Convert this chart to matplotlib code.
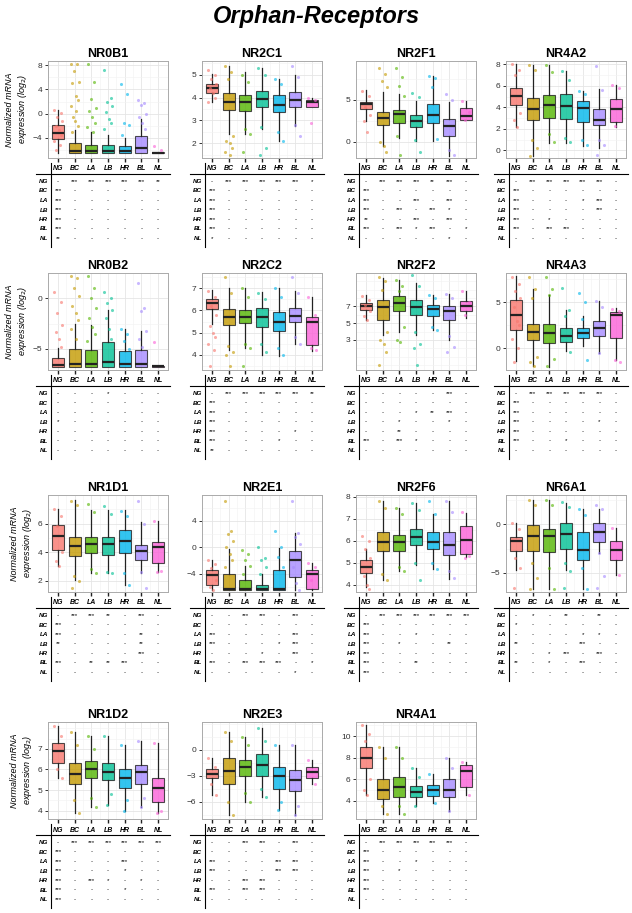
import matplotlib.pyplot as plt
from matplotlib.lines import Line2D
from matplotlib.ticker import AutoMinorLocator

plt.rcParams['font.family'] = ['Liberation Sans', 'DejaVu Sans']

groups = ['NG', 'BC', 'LA', 'LB', 'HR', 'BL', 'NL']
colors = ['#F8766D', '#C49A00', '#53B400', '#00C094', '#00B6EB', '#A58AFF', '#FB61D7']

# box stats per group: [low whisker, q1, median, q3, high whisker]
NR0B1_box = [[-6.5, -4.2, -3.1, -1.8, 0.6], [-6.5, -6.5, -6.2, -4.9, -2.6], [-6.5, -6.5, -6.2, -5.1, -3.0],
             [-6.5, -6.5, -6.2, -5.1, -3.5], [-6.5, -6.5, -6.2, -5.4, -4.0], [-6.5, -6.5, -5.7, -3.6, -0.8],
             [-6.5, -6.5, -6.5, -6.3, -6.3]]
NR2C1_box = [[3.8, 4.2, 4.41, 4.59, 5.05], [2.4, 3.46, 3.82, 4.19, 5.4], [2.4, 3.4, 3.79, 4.12, 5.1],
             [2.62, 3.57, 3.94, 4.28, 5.3], [2.1, 3.35, 3.68, 4.13, 4.8], [2.76, 3.57, 3.87, 4.24, 5.0],
             [3.57, 3.57, 3.81, 3.87, 4.0]]
NR2F1_box = [[2.48, 3.88, 4.48, 4.76, 6.16], [-0.52, 1.96, 2.8, 3.56, 5.88], [0.48, 2.28, 3.36, 3.76, 5.68],
             [0.08, 1.76, 2.48, 3.2, 4.88], [0.08, 2.28, 3.2, 4.56, 7.88], [-1.72, 0.68, 1.88, 2.68, 4.68],
             [2.6, 2.6, 3.08, 4.08, 4.88]]
NR4A2_box = [[2.2, 4.26, 5.05, 5.78, 8.0], [-0.5, 2.78, 3.86, 4.9, 7.9], [0.7, 3.0, 4.26, 5.15, 7.9],
             [0.7, 2.94, 4.1, 5.2, 7.4], [0.4, 2.63, 3.96, 4.58, 5.5], [0.25, 2.37, 2.78, 3.8, 5.7],
             [2.2, 2.6, 3.8, 4.74, 6.1]]
NR0B2_box = [[-6.8, -6.8, -6.6, -5.9, -4.9], [-6.8, -6.8, -6.5, -5.0, -2.5], [-6.8, -6.8, -6.5, -5.1, -2.6],
             [-6.8, -6.8, -6.3, -4.3, -1.15], [-6.8, -6.8, -6.5, -5.2, -3.0], [-6.8, -6.8, -6.5, -5.1, -3.2],
             [-6.8, -6.8, -6.75, -6.7, -6.7]]
NR2C2_box = [[5.4, 6.05, 6.32, 6.52, 6.95], [4.2, 5.33, 5.72, 6.07, 7.0], [4.3, 5.42, 5.72, 6.02, 7.0],
             [4.0, 5.24, 5.72, 6.1, 6.85], [3.95, 5.05, 5.5, 5.95, 7.0], [4.5, 5.5, 5.77, 6.1, 6.9],
             [4.15, 4.45, 5.5, 5.72, 6.6]]
NR2F2_box = [[5.4, 6.52, 7.0, 7.4, 8.4], [3.6, 5.4, 6.9, 7.8, 10.4], [4.0, 6.4, 7.4, 8.2, 10.2],
             [3.6, 6.0, 6.9, 7.8, 9.8], [4.2, 5.8, 6.7, 7.2, 8.4], [3.0, 5.4, 6.4, 7.1, 8.5],
             [5.6, 6.4, 7.0, 7.6, 8.8]]
NR4A3_box = [[-1.46, 2.0, 3.58, 5.2, 7.85], [-2.0, 0.84, 1.75, 2.63, 6.4], [-2.08, 0.55, 1.64, 2.63, 5.84],
             [-0.36, 0.62, 1.35, 2.19, 4.2], [0.18, 1.1, 1.64, 2.19, 3.5], [-0.55, 1.28, 2.19, 2.92, 5.1],
             [-1.3, 1.1, 3.58, 3.94, 4.38]]
NR1D1_box = [[3.0, 4.14, 5.14, 5.88, 7.0], [2.05, 3.72, 4.42, 5.07, 7.67], [2.5, 3.9, 4.53, 5.07, 6.95],
             [2.5, 3.79, 4.56, 5.07, 6.95], [1.7, 3.9, 4.79, 5.53, 6.95], [2.5, 3.44, 4.1, 4.49, 6.1],
             [2.63, 3.21, 4.37, 4.72, 6.2]]
NR2E1_box = [[-6.5, -5.8, -4.23, -3.45, -1.9], [-6.5, -6.5, -6.3, -4.0, -0.35], [-6.5, -6.5, -6.3, -5.0, -2.9],
             [-6.5, -6.5, -6.3, -5.7, -4.0], [-6.5, -6.5, -6.3, -3.45, -0.1], [-6.5, -4.5, -1.9, -0.6, 2.2],
             [-6.5, -6.3, -4.0, -3.45, -2.4]]
NR2F6_box = [[3.9, 4.52, 4.8, 5.1, 5.6], [4.2, 5.55, 5.96, 6.37, 7.8], [4.6, 5.55, 5.93, 6.25, 7.5],
             [4.9, 5.8, 6.15, 6.55, 7.72], [4.7, 5.63, 5.93, 6.37, 7.2], [4.28, 5.33, 5.8, 6.4, 7.78],
             [5.25, 5.4, 6.03, 6.67, 7.27]]
NR6A1_box = [[-4.76, -2.74, -1.74, -1.28, 0.1], [-6.67, -2.74, -1.2, -0.07, 2.5], [-6.67, -2.85, -1.2, -0.5, 2.5],
             [-4.76, -2.5, -1.0, 0.17, 2.25], [-6.67, -3.7, -2.6, -0.76, 1.56], [-3.0, -1.87, -0.83, 0.1, 1.56],
             [-5.25, -3.7, -2.67, -1.7, -0.42]]
NR1D2_box = [[5.6, 6.3, 6.9, 7.3, 8.1], [3.9, 5.3, 5.8, 6.3, 7.8], [4.2, 5.6, 6.0, 6.4, 7.6],
             [4.3, 5.5, 5.9, 6.3, 7.6], [4.0, 5.1, 5.6, 6.0, 7.2], [4.2, 5.3, 5.9, 6.2, 7.4],
             [3.9, 4.4, 5.1, 5.6, 7.3]]
NR2E3_box = [[-5.2, -3.3, -2.8, -2.2, -1.0], [-7.5, -4.0, -2.5, -0.9, 2.0], [-6.0, -3.0, -2.0, -1.2, 1.5],
             [-5.5, -3.0, -1.8, -0.5, 2.5], [-7.0, -4.5, -3.0, -2.0, 0.5], [-7.5, -4.8, -3.5, -2.3, 0.5],
             [-4.0, -3.3, -2.6, -2.0, -1.2]]
NR4A1_box = [[4.5, 7.0, 8.0, 9.0, 11.0], [2.8, 4.2, 5.0, 6.0, 9.0], [2.8, 4.3, 5.3, 6.2, 9.0],
             [3.5, 4.3, 4.8, 5.4, 7.0], [3.8, 4.4, 5.0, 5.5, 6.5], [3.0, 4.3, 5.0, 6.0, 8.0],
             [4.5, 5.3, 6.8, 7.3, 7.6]]

# visible individual samples per group
NR0B1_pts = [[0.6, 0.2, -0.5, -1.2, -2.0, -2.6, -3.5, -4.5, -5.2, -6.0],
             [8.2, 8.2, 7.0, 5.2, 5.0, 3.0, 2.2, 1.2, 0.5, -0.5, -1.2, -2.0, -3.0],
             [8.2, 5.2, 2.5, 1.0, 0.5, -0.5, -1.5, -2.2, -3.0],
             [7.2, 2.6, 2.0, 1.2, 0.3, -0.8, -1.6, -2.5],
             [4.9, 3.2, -1.5, -1.9, -3.5], [2.2, 1.8, 1.4, 0.0, -0.6, -1.5, -2.5], [-5.3, -5.9]]
NR2C1_pts = [[5.2, 5.0, 4.8, 4.6, 4.4, 4.2, 4.0, 3.8], [5.4, 5.1, 4.8, 2.3, 2.1, 2.0, 1.8, 1.6, 1.5],
             [5.0, 4.7, 2.6, 2.4, 1.6], [5.3, 5.0, 2.7, 1.8, 1.5], [4.8, 4.6, 2.5, 2.1],
             [5.4, 4.9, 2.8, 2.3], [4.0, 3.9, 2.9]]
NR2F1_pts = [[6.1, 5.5, 4.2, 3.2, 2.5, 1.2], [8.8, 8.0, 7.2, 6.5, 0.0, -0.5, -1.2],
             [8.8, 7.7, 6.6, 5.5, 0.7, -1.5], [5.8, 5.3, 0.2, -1.2], [7.8, 7.6, 6.5, 0.3],
             [5.7, 5.0, -1.0, -1.6], [4.8, 3.5, 2.6]]
NR4A2_pts = [[8.0, 7.5, 7.0, 3.5, 2.8, 2.2], [7.9, 7.5, 1.0, 0.2, -0.5], [7.9, 7.3, 1.5, 0.8],
             [7.4, 6.5, 1.2, 0.8], [5.5, 5.2, 1.0, 0.5], [7.8, 5.6, 1.0, 0.5, -0.4], [6.1, 5.8, 2.3]]
NR0B2_pts = [[0.6, -0.4, -1.5, -2.6, -3.3, -4.0, -4.8], [2.2, 2.0, 1.0, 0.2, -0.8, -1.5, -2.2, -3.0, -4.0],
             [2.2, 1.0, 0.0, -1.0, -2.0, -2.8, -3.5, -4.2], [0.6, 0.0, -0.5, -1.2, -2.0, -3.0, -4.0],
             [-3.0, -3.5, -4.2, -5.0], [1.5, -1.0, -1.3, -3.2, -4.0, -4.8], [-4.3]]
NR2C2_pts = [[6.9, 6.6, 6.2, 5.8, 5.3, 5.0, 4.8, 4.5, 4.2, 3.5], [7.5, 6.8, 4.4, 4.1, 4.0, 3.5],
             [7.0, 6.6, 4.5, 4.3, 3.5], [6.8, 6.5, 4.5, 4.1], [7.0, 6.6, 4.3, 4.0],
             [7.5, 6.8, 4.8, 4.5], [6.6, 5.8, 4.3, 4.2]]
NR2F2_pts = [[8.3, 7.8, 7.2, 6.5, 5.8, 5.4], [10.5, 10.0, 9.0, 4.0, 3.0, 2.5, 1.5, 0.0],
             [10.2, 9.5, 8.8, 4.5, 3.0, 2.8], [10.8, 9.5, 4.0, 2.5, 2.0, 0.0], [8.4, 8.0, 4.5, 4.2],
             [8.5, 8.0, 3.5, 2.2, 1.6], [8.8, 7.5, 6.0]]
NR4A3_pts = [[7.8, 7.0, 6.2, 5.5, 4.5, 3.0, 2.5, 1.0, 0.0, -1.5], [7.8, 6.4, 5.5, -1.0, -1.5, -2.0],
             [7.8, 6.4, 5.8, -1.2, -2.0], [6.6, 4.2, 3.5, -0.4], [6.0, 5.0, 3.2, -1.3],
             [5.1, 4.5, -0.5], [4.3, 4.0, -1.3, -1.5]]
NR1D1_pts = [[7.0, 6.5, 5.8, 4.0, 3.4, 3.0], [7.6, 7.3, 2.3, 2.0, 1.5], [7.4, 6.8, 2.8, 2.5],
             [7.2, 6.7, 2.6, 2.5], [6.9, 6.5, 2.5, 1.7], [7.6, 6.0, 2.6, 1.5], [6.2, 2.7, 2.6]]
NR2E1_pts = [[-1.9, -2.5, -3.2, -5.0, -6.0, -6.5], [7.0, 2.5, 2.0, 1.0, 0.0, -1.0, -2.0, -3.0],
             [-0.5, -1.0, -2.0, -2.9, -4.0], [0.0, -1.7, -2.0, -3.0, -4.0], [2.5, 0.0, -1.5, -3.0],
             [7.0, 2.2, 1.5, 0.5, -3.0, -5.5, -6.5], [-2.4, -3.0, -5.0]]
NR2F6_pts = [[6.2, 6.0, 5.6, 5.2, 4.4, 4.0, 3.8], [7.8, 7.5, 4.5, 4.2], [7.5, 7.2, 4.8, 4.6],
             [7.7, 7.4, 5.0, 4.2], [7.8, 7.2, 5.0, 4.7], [7.8, 7.3, 4.6, 4.3], [7.3, 5.3, 5.2]]
NR6A1_pts = [[0.1, -0.5, -3.5, -4.5, -6.6], [2.5, 2.0, -4.0, -5.5, -6.7], [2.5, 2.0, -4.5, -6.7],
             [2.3, 1.8, -4.0, -4.8, -6.6], [1.6, 1.0, -4.5, -6.7], [2.0, 1.6, -3.0, -5.3, -6.6],
             [-0.4, -5.2]]
NR1D2_pts = [[8.1, 7.6, 6.0, 5.6], [7.8, 7.2, 4.5, 3.9], [7.6, 7.0, 4.6, 4.2], [7.6, 4.8, 4.3],
             [7.2, 4.5, 4.0], [7.4, 4.6, 4.2], [7.3, 4.0, 3.9]]
NR2E3_pts = [[-1.0, -2.0, -4.0, -5.2], [2.0, 1.0, -6.0, -7.5], [1.5, 0.5, -5.0, -6.0],
             [2.5, 1.0, -4.5, -5.5], [0.5, -6.0, -7.0], [0.5, -6.5, -7.5], [-1.2, -4.0]]
NR4A1_pts = [[11.0, 10.2, 9.5, 6.0, 5.0, 4.5], [9.0, 8.0, 3.5, 2.8], [9.0, 8.0, 3.5, 2.8],
             [7.0, 6.2, 3.5], [6.5, 3.8], [8.0, 7.0, 3.0], [7.6, 4.5]]

# pairwise significance tables (rows/cols in group order)
NR0B1_sig = ['- *** *** *** *** *** **', '*** - - - - - -', '*** - - - - - -', '*** - - - - - -',
             '*** - - - - - -', '*** - - - - - -', '** - - - - - -']
NR2C1_sig = ['- *** *** *** *** *** *', '*** - - - - - -', '*** - - - - - -', '*** - - - - - -',
             '*** - - - - - -', '*** - - - - - -', '* - - - - - -']
NR2F1_sig = ['- *** *** *** ** *** -', '*** - - - - - -', '*** - - *** - *** -', '*** - *** - *** * -',
             '** - - *** - *** -', '*** - *** * *** - *', '- - - - - * -']
NR4A2_sig = ['- *** *** *** *** *** -', '*** - - - - - -', '*** - - - * *** -', '*** - - - - *** -',
             '*** - * - - - -', '*** - *** *** - - -', '- - - - - - -']
NR0B2_sig = ['- - - * - - -', '- - - - - - -', '- - - - - - -', '* - - - - - -',
             '- - - - - - -', '- - - - - - -', '- - - - - - -']
NR2C2_sig = ['- *** *** *** *** *** **', '*** - - - - - -', '*** - - - - - -', '*** - - - - - -',
             '*** - - - - * -', '*** - - - * - -', '** - - - - - -']
NR2F2_sig = ['- - - - - *** -', '- - - - - - -', '- - - * ** *** -', '- - * - - * -',
             '- - ** - - - -', '*** - *** * - - -', '- - - - - - -']
NR4A3_sig = ['- *** *** *** *** *** -', '*** - - - - - -', '*** - - - - - -', '*** - - - - * -',
             '*** - - - - - -', '*** - - * - - -', '- - - - - - -']
NR1D1_sig = ['- *** *** ** - *** -', '*** - - - - - -', '*** - - - - ** -', '** - - - - ** -',
             '- - - - - *** -', '*** - ** ** *** - -', '- - - - - - -']
NR2E1_sig = ['- - *** *** - *** -', '- - - - - - -', '*** - - - - *** -', '*** - - - * *** -',
             '- - - * - *** -', '*** - *** *** *** - *', '- - - - - * -']
NR2F6_sig = ['- *** *** *** *** *** ***', '*** - - - - - -', '*** - - * - - -', '*** - * - - ** -',
             '*** - - - - - -', '*** - - ** - - -', '*** - - - - - -']
NR6A1_sig = ['- * - ** - ** -', '* - - - - - -', '- - - - * * -', '** - - - *** - -',
             '- - * *** - *** -', '** - * - *** - -', '- - - - - - -']
NR1D2_sig = ['- *** *** *** *** *** ***', '*** - - - - - -', '*** - - - *** - -', '*** - - - * - -',
             '*** - *** * - * -', '*** - - - * - -', '*** - - - - - -']
NR2E3_sig = ['- - *** *** - *** -', '- - - - - - -', '*** - - - *** *** -', '*** - - - *** *** -',
             '- - *** *** - - -', '*** - *** *** - - -', '- - - - - - -']
NR4A1_sig = ['- *** *** *** *** *** -', '*** - - - - - -', '*** - - * - - -', '*** - * - - - -',
             '*** - - - - - -', '*** - - - - - -', '- - - - - - -']

NR0B1_ticks = [-4, 0, 4, 8]
NR2C1_ticks = [2, 3, 4, 5]
NR2F1_ticks = [0, 5]
NR4A2_ticks = [0, 2, 4, 6, 8]
NR0B2_ticks = [-5, 0]
NR2C2_ticks = [4, 5, 6, 7]
NR2F2_ticks = [3, 5, 7]
NR4A3_ticks = [0, 5]
NR1D1_ticks = [2, 4, 6]
NR2E1_ticks = [-4, 0, 4]
NR2F6_ticks = [4, 5, 6, 7, 8]
NR6A1_ticks = [-5, 0]
NR1D2_ticks = [4, 5, 6, 7]
NR2E3_ticks = [-6, -3, 0]
NR4A1_ticks = [4, 6, 8, 10]

panels = [
    ('NR0B1', NR0B1_box, NR0B1_pts, NR0B1_sig, NR0B1_ticks, (-7.3, 8.7)),
    ('NR2C1', NR2C1_box, NR2C1_pts, NR2C1_sig, NR2C1_ticks, (1.35, 5.6)),
    ('NR2F1', NR2F1_box, NR2F1_pts, NR2F1_sig, NR2F1_ticks, (-1.9, 9.6)),
    ('NR4A2', NR4A2_box, NR4A2_pts, NR4A2_sig, NR4A2_ticks, (-0.7, 8.3)),
    ('NR0B2', NR0B2_box, NR0B2_pts, NR0B2_sig, NR0B2_ticks, (-7.1, 2.5)),
    ('NR2C2', NR2C2_box, NR2C2_pts, NR2C2_sig, NR2C2_ticks, (3.3, 7.7)),
    ('NR2F2', NR2F2_box, NR2F2_pts, NR2F2_sig, NR2F2_ticks, (-0.6, 11.0)),
    ('NR4A3', NR4A3_box, NR4A3_pts, NR4A3_sig, NR4A3_ticks, (-2.4, 8.2)),
    ('NR1D1', NR1D1_box, NR1D1_pts, NR1D1_sig, NR1D1_ticks, (1.2, 8.0)),
    ('NR2E1', NR2E1_box, NR2E1_pts, NR2E1_sig, NR2E1_ticks, (-6.8, 7.9)),
    ('NR2F6', NR2F6_box, NR2F6_pts, NR2F6_sig, NR2F6_ticks, (3.67, 8.07)),
    ('NR6A1', NR6A1_box, NR6A1_pts, NR6A1_sig, NR6A1_ticks, (-7.0, 3.05)),
    ('NR1D2', NR1D2_box, NR1D2_pts, NR1D2_sig, NR1D2_ticks, (3.6, 8.3)),
    ('NR2E3', NR2E3_box, NR2E3_pts, NR2E3_sig, NR2E3_ticks, (-8.0, 3.2)),
    ('NR4A1', NR4A1_box, NR4A1_pts, NR4A1_sig, NR4A1_ticks, (2.3, 11.3)),
]

W, H = 632, 913
fig = plt.figure(figsize=(W / 100, H / 100), dpi=100)

def fx(x):
    return x / W

def fy(y):
    return 1 - y / H

col_left = [48, 202, 356, 506]
row_top = [61, 273, 495, 722]
pw, ph = 120, 97
jit = [-0.22, 0.15, -0.05, 0.25, -0.15, 0.05, 0.2, -0.25, 0.1, -0.1, 0.0, 0.18, -0.18]

fig.text(0.5, fy(16), 'Orphan-Receptors', ha='center', va='center',
         fontsize=17, fontweight='bold', style='italic')

for k, (name, box, pts, sig, ticks, ylim) in enumerate(panels):
    r, c = divmod(k, 4)
    left, top = col_left[c], row_top[r]
    bottom = top + ph
    ax = fig.add_axes([fx(left), fy(bottom), pw / W, ph / H])
    stats = [dict(whislo=b[0], q1=b[1], med=b[2], q3=b[3], whishi=b[4], fliers=[]) for b in box]
    bp = ax.bxp(stats, positions=range(1, 8), widths=0.72, patch_artist=True, showcaps=False,
                boxprops=dict(linewidth=0.8, edgecolor='#222222'),
                medianprops=dict(color='#222222', linewidth=1.6),
                whiskerprops=dict(color='#222222', linewidth=0.9), manage_ticks=False)
    for patch, col in zip(bp['boxes'], colors):
        patch.set_facecolor(col)
        patch.set_alpha(0.8)
    for i, vals in enumerate(pts):
        xs = [i + 1 + jit[j % len(jit)] for j in range(len(vals))]
        ax.scatter(xs, vals, s=5, color=colors[i], alpha=0.6, lw=0, zorder=3)
    ax.set_xlim(0.4, 7.6)
    ax.set_ylim(*ylim)
    ax.set_yticks(ticks)
    ax.yaxis.set_minor_locator(AutoMinorLocator(2))
    ax.set_xticks(range(1, 8))
    ax.set_xticklabels([])
    ax.set_xticks([x + 0.5 for x in range(1, 7)], minor=True)
    ax.grid(True, which='major', color='#E5E5E5', lw=0.6)
    ax.grid(True, which='minor', color='#F2F2F2', lw=0.4)
    ax.set_axisbelow(True)
    for s in ax.spines.values():
        s.set_color('#AAAAAA')
        s.set_linewidth(0.7)
    ax.tick_params(axis='y', labelsize=6, colors='#333333', length=2.5, width=0.7, pad=1.5)
    ax.tick_params(axis='x', length=3, width=1.0, colors='#222222')
    ax.tick_params(which='minor', length=0)
    ax.set_title(name, fontsize=9, fontweight='bold', pad=3)
    if c == 0:
        ax.set_ylabel('Normalized mRNA\nexpression (log$_2$)', fontsize=6.5, style='italic', labelpad=3)

    # significance table below the panel
    xcol = [left + (i + 1 - 0.4) / 7.2 * pw for i in range(7)]
    for i, g in enumerate(groups):
        fig.text(fx(xcol[i]), fy(bottom + 11), g, ha='center', va='center',
                 fontsize=5, fontweight='bold', style='italic')
    fig.add_artist(Line2D([fx(left - 12), fx(left + pw + 2)], [fy(bottom + 16)] * 2,
                          transform=fig.transFigure, color='black', lw=0.8))
    fig.add_artist(Line2D([fx(left + 3)] * 2, [fy(bottom + 5), fy(bottom + 89)],
                          transform=fig.transFigure, color='black', lw=0.8))
    for j, g in enumerate(groups):
        yy = bottom + 23.5 + 9.5 * j
        fig.text(fx(left), fy(yy), g, ha='right', va='center',
                 fontsize=4.5, fontweight='bold', style='italic')
        for i, s in enumerate(sig[j].split()):
            fig.text(fx(xcol[i]), fy(yy), s, ha='center', va='center', fontsize=4.5)

fig.savefig('out.png', dpi=100)
